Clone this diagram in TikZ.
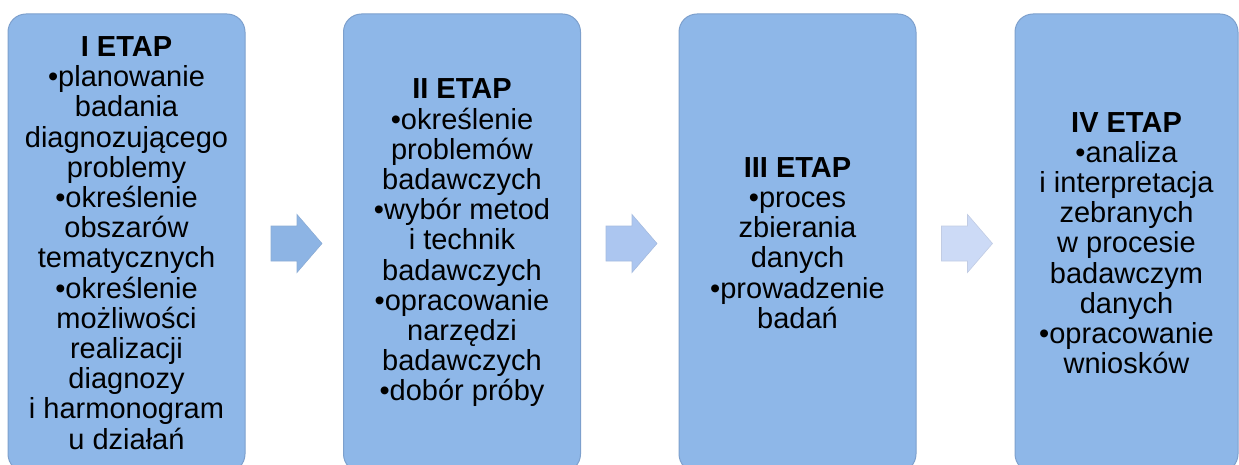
\documentclass[tikz,border=0pt]{standalone}
\usepackage{fontspec}
\setmainfont{Liberation Sans}

\definecolor{stepfill}{RGB}{142,183,232}
\definecolor{stepedge}{RGB}{125,160,205}
\definecolor{arrowA}{RGB}{141,180,228}
\definecolor{arrowB}{RGB}{172,198,240}
\definecolor{arrowC}{RGB}{204,218,246}

\begin{document}
\begin{tikzpicture}[x=1pt,y=-1pt]

\tikzset{stepbox/.style={fill=stepfill,draw=stepedge,line width=1pt,rounded corners=18pt,
    minimum width=237pt,minimum height=458pt,align=center,inner sep=0pt,
    font={\fontsize{29}{30.2}\selectfont}}}

\useasboundingbox (0,0) rectangle (1239,465);
\clip (0,0) rectangle (1239,465);

\node[stepbox] (etap1) at (126.5,243)
    {\textbf{I ETAP}\\•planowanie\\badania\\diagnozującego\\problemy\\•określenie\\obszarów\\tematycznych\\•określenie\\możliwości\\realizacji\\diagnozy\\i harmonogram\\u działań};

\node[stepbox] (etap2) at (462,243)
    {\textbf{II ETAP}\\•określenie\\problemów\\badawczych\\•wybór metod\\i technik\\badawczych\\•opracowanie\\narzędzi\\badawczych\\•dobór próby};

\node[stepbox] (etap3) at (797.5,243)
    {\textbf{III ETAP}\\•proces\\zbierania\\danych\\•prowadzenie\\badań};

\node[stepbox,minimum width=223pt] (etap4) at (1126.5,243)
    {\textbf{IV ETAP}\\•analiza\\i interpretacja\\zebranych\\w procesie\\badawczym\\danych\\•opracowanie\\wniosków};

\foreach \cx/\col in {296.5/arrowA,631.5/arrowB,967/arrowC}
{
    \filldraw[fill=\col,draw=\col!85!gray,line width=0.6pt]
        (\cx-25.5,226) -- (\cx+0.5,226) -- (\cx+0.5,214.5) -- (\cx+25.5,243.5)
        -- (\cx+0.5,272.5) -- (\cx+0.5,261) -- (\cx-25.5,261) -- cycle;
}

\end{tikzpicture}
\end{document}
